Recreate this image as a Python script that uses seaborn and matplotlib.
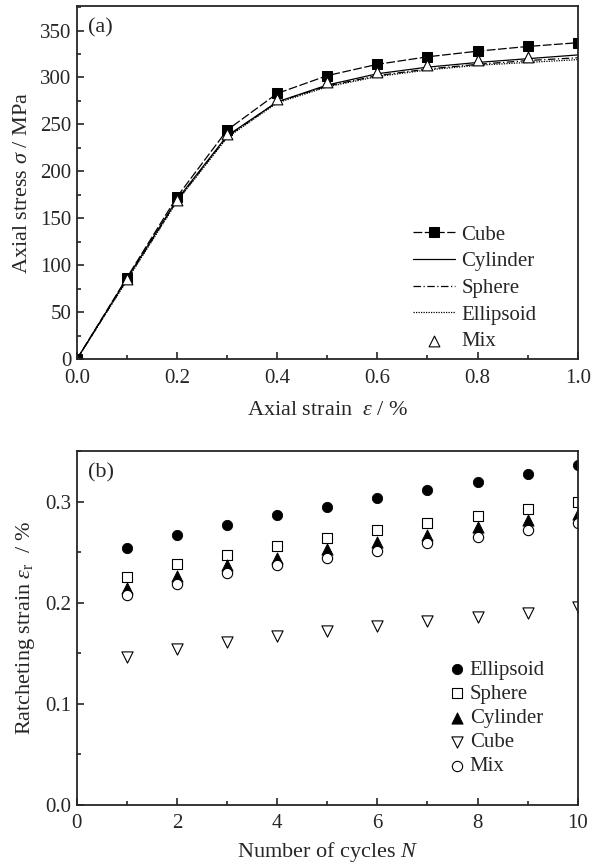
import numpy as np
import pandas as pd
import matplotlib
matplotlib.use("Agg")
import matplotlib.pyplot as plt
from matplotlib.ticker import MultipleLocator
import seaborn as sns

# (a) stress-strain curves
strain = [0.0, 0.1, 0.2, 0.3, 0.4, 0.5, 0.6, 0.7, 0.8, 0.9, 1.0]
cube_stress = [0, 87, 173, 244, 283, 302, 314, 322, 328, 333, 337]
cylinder_stress = [0, 86, 170, 238, 274, 292, 304, 311, 316, 320, 324]
sphere_stress = [0, 85, 169, 237, 274, 291, 302, 309, 314, 318, 321]
ellipsoid_stress = [0, 84, 168, 236, 273, 290, 301, 308, 313, 316, 319]
mix_strain = [0.1, 0.2, 0.3, 0.4, 0.5, 0.6, 0.7, 0.8, 0.9]
mix_stress = [85, 170, 240, 277, 295, 306, 313, 319, 322]

# (b) ratcheting strain vs cycles
cycles = [1, 2, 3, 4, 5, 6, 7, 8, 9, 10]
ellipsoid_rs = [0.254, 0.267, 0.277, 0.2865, 0.295, 0.304, 0.312, 0.320, 0.328, 0.336]
sphere_rs = [0.226, 0.238, 0.2475, 0.256, 0.264, 0.272, 0.279, 0.286, 0.293, 0.300]
cylinder_rs = [0.215, 0.227, 0.237, 0.244, 0.253, 0.260, 0.267, 0.275, 0.282, 0.288]
cube_rs = [0.1465, 0.154, 0.161, 0.1666, 0.172, 0.1766, 0.182, 0.186, 0.190, 0.196]
mix_rs = [0.208, 0.219, 0.229, 0.237, 0.244, 0.251, 0.259, 0.265, 0.272, 0.279]

sns.set_style("ticks")
plt.rcParams["font.family"] = ["Liberation Serif", "DejaVu Serif"]
plt.rcParams["mathtext.fontset"] = "custom"
plt.rcParams["mathtext.rm"] = "Liberation Serif"
plt.rcParams["mathtext.it"] = "Liberation Serif:italic"
plt.rcParams["axes.linewidth"] = 1.3
FS = 15   # ticks / legends
LFS = 16  # axis labels

fig = plt.figure(figsize=(6.05, 8.68), dpi=100)
ax1 = fig.add_axes([0.127, 0.586, 0.828, 0.407])
ax2 = fig.add_axes([0.127, 0.073, 0.828, 0.407])

lw = 0.9
sns.lineplot(x=strain, y=cube_stress, ax=ax1, color="black", lw=lw,
             linestyle=(0, (7, 2)), marker="s", markersize=6.5,
             markeredgecolor="black", label="Cube")
sns.lineplot(x=strain, y=cylinder_stress, ax=ax1, color="black", lw=lw,
             linestyle="-", label="Cylinder")
sns.lineplot(x=strain, y=sphere_stress, ax=ax1, color="black", lw=lw,
             linestyle=(0, (6, 2, 1, 2)), label="Sphere")
sns.lineplot(x=strain, y=ellipsoid_stress, ax=ax1, color="black", lw=lw,
             linestyle=(0, (1, 1)), label="Ellipsoid")
sns.scatterplot(x=mix_strain, y=mix_stress, ax=ax1, marker="^", s=60,
                color="white", edgecolor="black", linewidth=0.8, label="Mix",
                zorder=5)

ax1.set_xlim(0, 1.0)
ax1.set_ylim(0, 376)
ax1.xaxis.set_major_locator(MultipleLocator(0.2))
ax1.xaxis.set_minor_locator(MultipleLocator(0.1))
ax1.yaxis.set_major_locator(MultipleLocator(50))
ax1.yaxis.set_minor_locator(MultipleLocator(25))
ax1.set_xticklabels([f"{v:.1f}" for v in ax1.get_xticks()])
ax1.set_xlabel(r"Axial strain  $\varepsilon$ / %", fontsize=LFS, labelpad=9)
ax1.set_ylabel(r"Axial stress $\sigma$ / MPa", fontsize=LFS, labelpad=6)
ax1.text(0.022, 0.965, "(a)", transform=ax1.transAxes, fontsize=LFS, va="top")
ax1.legend(loc="lower right", bbox_to_anchor=(0.955, -0.03), frameon=False,
           fontsize=FS, handlelength=2.0, handletextpad=0.3, labelspacing=0.34)

ms = 55
sns.scatterplot(x=cycles, y=ellipsoid_rs, ax=ax2, marker="o", s=ms,
                color="black", edgecolor="black", label="Ellipsoid")
sns.scatterplot(x=cycles, y=sphere_rs, ax=ax2, marker="s", s=ms,
                color="white", edgecolor="black", linewidth=0.8, label="Sphere")
sns.scatterplot(x=cycles, y=cylinder_rs, ax=ax2, marker="^", s=ms + 10,
                color="black", edgecolor="black", label="Cylinder")
sns.scatterplot(x=cycles, y=cube_rs, ax=ax2, marker="v", s=ms + 10,
                color="white", edgecolor="black", linewidth=0.8, label="Cube")
sns.scatterplot(x=cycles, y=mix_rs, ax=ax2, marker="o", s=ms,
                color="white", edgecolor="black", linewidth=0.8, label="Mix")

ax2.set_xlim(0, 10)
ax2.set_ylim(0, 0.35)
ax2.xaxis.set_major_locator(MultipleLocator(2))
ax2.xaxis.set_minor_locator(MultipleLocator(1))
ax2.yaxis.set_major_locator(MultipleLocator(0.1))
ax2.yaxis.set_minor_locator(MultipleLocator(0.05))
ax2.set_yticks([0.0, 0.1, 0.2, 0.3])
ax2.set_yticklabels(["0.0", "0.1", "0.2", "0.3"])
ax2.set_xlabel(r"Number of cycles $N$", fontsize=LFS, labelpad=5)
ax2.set_ylabel(r"Ratcheting strain $\varepsilon_{\rm r}$  / %", fontsize=LFS, labelpad=6)
ax2.text(0.022, 0.965, "(b)", transform=ax2.transAxes, fontsize=LFS, va="top")
ax2.legend(loc="lower right", bbox_to_anchor=(0.972, 0.027), frameon=False,
           fontsize=FS, handlelength=0.6, handletextpad=0.3, labelspacing=0.22,
           scatterpoints=1)

for ax in (ax1, ax2):
    ax.tick_params(which="both", direction="in", labelsize=FS)
    ax.tick_params(axis="x", pad=7)
    ax.tick_params(axis="y", pad=4)
    ax.tick_params(which="major", length=5, width=1.2)
    ax.tick_params(which="minor", length=3, width=1.2)
    ax.tick_params(top=False, right=False)
    for s in ax.spines.values():
        s.set_visible(True)
        s.set_linewidth(1.3)

fig.savefig("out.png", dpi=100)
